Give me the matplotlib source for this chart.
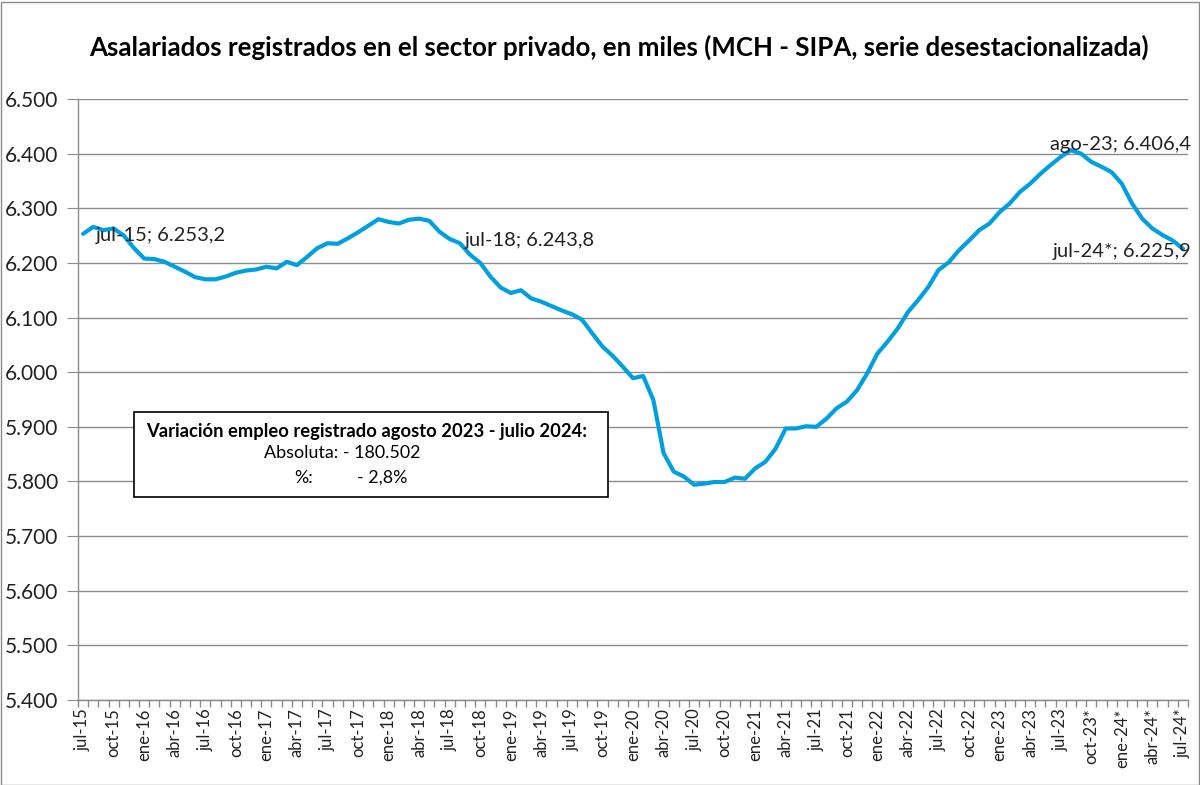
import matplotlib
matplotlib.use('Agg')
import matplotlib.pyplot as plt
import matplotlib.ticker as plticker
from matplotlib.patches import Rectangle

FONT = 'Lato'
LINE_COLOR = '#00A0E0'
GRID_COLOR = '#8C8C8C'
TEXT_COLOR = '#222222'

MONTHS = ['ene', 'feb', 'mar', 'abr', 'may', 'jun',
          'jul', 'ago', 'sep', 'oct', 'nov', 'dic']

# jul-15 .. jul-24, miles de asalariados (serie desestacionalizada)
values = [
    6253.2, 6266, 6260, 6263, 6250, 6227,                                  # 2015 jul-dic
    6208, 6207, 6202, 6193, 6184, 6174, 6170, 6170, 6175, 6182, 6186, 6188,  # 2016
    6193, 6190, 6202, 6196, 6211, 6227, 6236, 6235, 6245, 6256, 6268, 6280,  # 2017
    6275, 6272, 6279, 6281, 6277, 6257, 6243.8, 6236, 6215, 6200, 6175, 6155,  # 2018
    6145, 6150, 6135, 6129, 6121, 6113, 6106, 6096, 6071, 6047, 6030, 6010,  # 2019
    5989, 5993, 5949, 5852, 5818, 5809, 5794, 5796, 5799, 5799, 5807, 5805,  # 2020
    5824, 5836, 5860, 5897, 5897, 5901, 5900, 5915, 5934, 5946, 5967, 5998,  # 2021
    6034, 6056, 6080, 6110, 6132, 6156, 6187, 6201, 6223, 6241, 6260, 6272,  # 2022
    6293, 6309, 6330, 6345, 6363, 6379, 6394, 6406.4, 6400, 6385, 6376, 6366,  # 2023
    6345, 6309, 6281, 6263, 6251, 6241, 6225.9,                            # 2024 ene-jul
]

# month labels
labels = []
for i in range(len(values)):
    m = (6 + i) % 12
    y = 15 + (6 + i) // 12
    star = '*' if i >= 97 else ''
    labels.append('%s-%02d%s' % (MONTHS[m], y, star))

# data labels: (index, text, x position, y value, alignment)
annotations = [
    (0,   'jul-15; 6.253,2',   1.2,  6251, 'left'),
    (36,  'jul-18; 6.243,8',   37.5, 6241, 'left'),
    (97,  'ago-23; 6.406,4',   108.8, 6416, 'right'),
    (108, 'jul-24*; 6.225,9',  108.8, 6220, 'right'),
]

box_title = 'Variación empleo registrado agosto 2023 - julio 2024:'
box_abs = 'Absoluta: - 180.502'
box_pct_label = '%:'
box_pct_value = '- 2,8%'

plt.rcParams['font.family'] = [FONT, 'DejaVu Sans']

figure = plt.figure(figsize=(12, 7.85), dpi=100)
ax = figure.add_axes([78 / 1200, 1 - 700 / 785, 1110 / 1200, 601 / 785])

xData = list(range(len(values)))
yData = [v / 1000.0 for v in values]
ax.plot(xData, yData, color=LINE_COLOR, linewidth=3.0, solid_joinstyle='round',
        solid_capstyle='round', zorder=3)

ax.set_xlim(-0.5, len(values) - 0.5)
ax.set_ylim(5.4, 6.5)

ax.yaxis.set_major_locator(plticker.MultipleLocator(0.1))
ax.yaxis.set_major_formatter(plticker.FuncFormatter(lambda v, p: '%.3f' % v))
ax.grid(axis='y', color=GRID_COLOR, linewidth=1.0)
ax.set_axisbelow(True)

major = list(range(0, len(values), 3))
ax.set_xticks(major)
ax.set_xticklabels([labels[i] for i in major], rotation=90, fontsize=12,
                   color=TEXT_COLOR)
ax.set_xticks([i + 0.5 for i in range(-1, len(values))], minor=True)
ax.tick_params(axis='x', which='major', length=0, pad=6)
ax.tick_params(axis='x', which='minor', length=5, color=GRID_COLOR, width=1)
ax.tick_params(axis='y', length=8, color=GRID_COLOR, labelsize=15,
               labelcolor=TEXT_COLOR, pad=6)

for side in ('top', 'right'):
    ax.spines[side].set_visible(False)
for side in ('left', 'bottom'):
    ax.spines[side].set_color(GRID_COLOR)
    ax.spines[side].set_linewidth(1.0)

for idx, text, xPos, yPos, align in annotations:
    ax.text(xPos, yPos / 1000.0, text, ha=align, va='center', fontsize=14.5,
            color=TEXT_COLOR, zorder=4)

# text box
figure.patches.append(Rectangle((134 / 1200, 1 - 497 / 785), 474 / 1200, 85 / 785,
                                transform=figure.transFigure, facecolor='white',
                                edgecolor='black', linewidth=1.2, zorder=5))
figure.text(146 / 1200, 1 - 431 / 785, box_title, fontsize=13.2, fontweight='bold',
            va='center', ha='left', zorder=6)
figure.text(264 / 1200, 1 - 453 / 785, box_abs, fontsize=12.9, va='center', ha='left',
            zorder=6)
figure.text(294 / 1200, 1 - 478 / 785, box_pct_label, fontsize=12.9, va='center',
            ha='left', zorder=6)
figure.text(357 / 1200, 1 - 478 / 785, box_pct_value, fontsize=12.9, va='center',
            ha='left', zorder=6)

figure.text(619 / 1200, 1 - 47 / 785,
            'Asalariados registrados en el sector privado, en miles (MCH - SIPA, serie desestacionalizada)',
            fontsize=18.6, fontweight='bold', ha='center', va='center')

# outer border of the chart area
figure.patches.append(Rectangle((0.5 / 1200, 0.5 / 785), 1198 / 1200, 783 / 785,
                                transform=figure.transFigure, fill=False,
                                edgecolor=GRID_COLOR, linewidth=1.0))

figure.savefig('out.png', dpi=100)
plt.close(figure)
